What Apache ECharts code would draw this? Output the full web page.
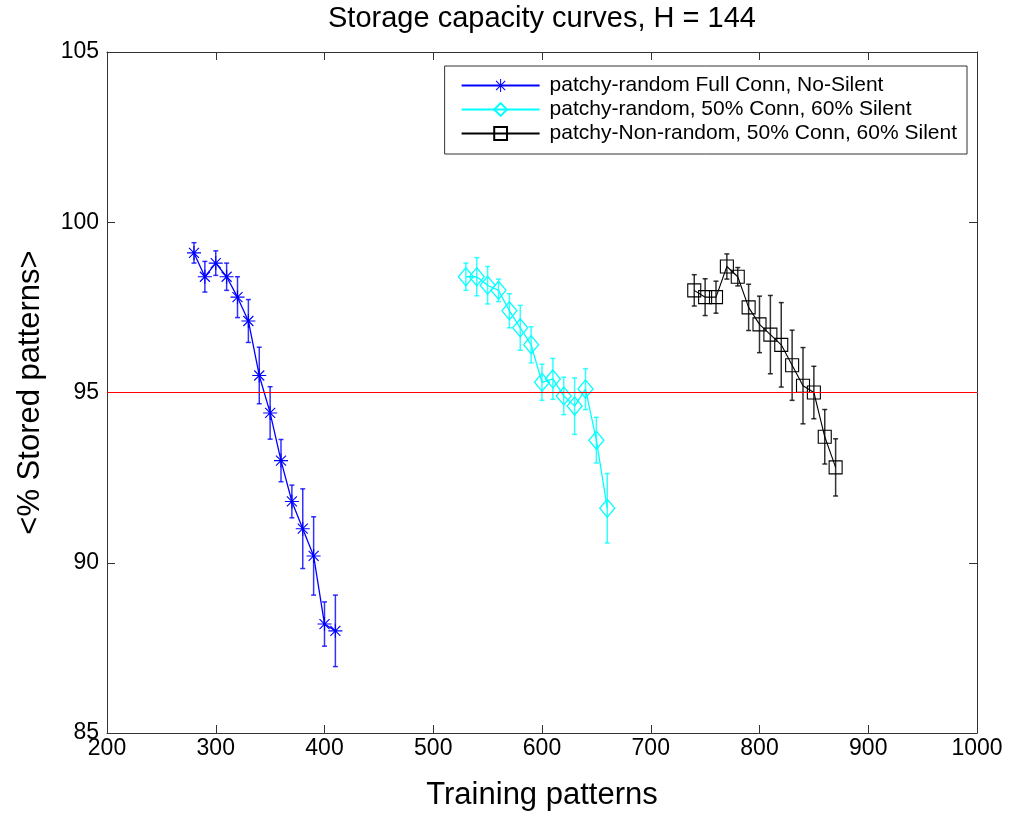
<!DOCTYPE html>
<html>
<head>
<meta charset="utf-8">
<script src="https://cdn.jsdelivr.net/npm/echarts@6/dist/echarts.min.js"></script>
<style>
  html, body { margin: 0; padding: 0; background: #fff; }
  #chart { width: 1010px; height: 816px; }
</style>
</head>
<body>
<div id="chart"></div>
<script>
// ---- data ----
const titleText = 'Storage capacity curves, H = 144';
const xTitle = 'Training patterns';
const yTitle = '<% Stored patterns>';
const seriesNames = [
  'patchy-random Full Conn, No-Silent',
  'patchy-random, 50% Conn, 60% Silent',
  'patchy-Non-random, 50% Conn, 60% Silent'
];
const refLevel = 95;

const xBlue = [280, 290, 300, 310, 320, 330, 340, 350, 360, 370, 380, 390, 400, 410];
const yBlue = [99.1, 98.4, 98.8, 98.4, 97.8, 97.1, 95.5, 94.4, 93.0, 91.8, 91.0, 90.2, 88.2, 88.0];
const eBlue = [0.3, 0.45, 0.36, 0.4, 0.6, 0.63, 0.83, 0.77, 0.62, 0.48, 1.17, 1.15, 0.65, 1.05];

const xCyan = [530, 540, 550, 560, 570, 580, 590, 600, 610, 620, 630, 640, 650, 660];
const yCyan = [98.4, 98.4, 98.15, 98.0, 97.4, 96.9, 96.4, 95.3, 95.4, 94.9, 94.6, 95.1, 93.6, 91.6];
const eCyan = [0.4, 0.56, 0.55, 0.33, 0.5, 0.66, 0.53, 0.53, 0.6, 0.55, 0.83, 0.6, 0.67, 1.02];

const xBlack = [740, 750, 760, 770, 780, 790, 800, 810, 820, 830, 840, 850, 860, 870];
const yBlack = [98.0, 97.8, 97.8, 98.7, 98.4, 97.5, 97.0, 96.7, 96.4, 95.8, 95.2, 95.0, 93.7, 92.8];
const eBlack = [0.46, 0.54, 0.47, 0.37, 0.27, 0.68, 0.83, 1.15, 1.24, 1.03, 1.12, 0.77, 0.8, 0.84];

// ---- helpers ----
const pts = (xs, ys) => xs.map((x, i) => [x, ys[i]]);
const errs = (xs, ys, es) => xs.map((x, i) => [x, ys[i] - es[i], ys[i] + es[i]]);
const plain = v => String(v);

const asterisk = 'path://M-0.55,-7L0.55,-7L0.55,7L-0.55,7Z' +
  'M-7,-0.55L7,-0.55L7,0.55L-7,0.55Z' +
  'M-5.4,-4.6L-4.6,-5.4L5.4,4.6L4.6,5.4Z' +
  'M4.6,-5.4L5.4,-4.6L-4.6,5.4L-5.4,4.6Z';

function errRender(params, api) {
  const x = api.value(0), lo = api.value(1), hi = api.value(2);
  const p1 = api.coord([x, hi]);
  const p2 = api.coord([x, lo]);
  const c = 2.5;
  const style = { stroke: api.visual('color'), lineWidth: 1.5, opacity: 0.8 };
  return {
    type: 'group',
    children: [
      { type: 'line', shape: { x1: p1[0], y1: p1[1], x2: p2[0], y2: p2[1] }, style },
      { type: 'line', shape: { x1: p1[0] - c, y1: p1[1], x2: p1[0] + c, y2: p1[1] }, style },
      { type: 'line', shape: { x1: p2[0] - c, y1: p2[1], x2: p2[0] + c, y2: p2[1] }, style }
    ]
  };
}

const FONT = 'Liberation Sans, Arial, sans-serif';
const axisLineStyle = { color: '#333', width: 1 };

const chart = echarts.init(document.getElementById('chart'), null, { renderer: 'canvas' });
chart.setOption({
  animation: false,
  backgroundColor: '#fff',
  textStyle: { fontFamily: FONT },
  title: {
    text: titleText,
    left: 542,
    top: 4,
    padding: 0,
    textAlign: 'center',
    textStyle: { fontFamily: FONT, fontSize: 29, fontWeight: 'normal', color: '#000' }
  },
  grid: { left: 107, right: 33, top: 52, bottom: 79, containLabel: false },
  legend: {
    data: seriesNames,
    orient: 'vertical',
    right: 43,
    top: 66,
    padding: [9, 10, 10, 16],
    itemWidth: 78,
    itemHeight: 16,
    itemGap: 3,
    borderColor: '#333',
    borderWidth: 1,
    backgroundColor: '#fff',
    textStyle: { fontFamily: FONT, fontSize: 21, color: '#000', padding: [0, 0, 0, 5] }
  },
  xAxis: [
    {
      type: 'value', min: 200, max: 1000, interval: 100, position: 'bottom',
      name: xTitle, nameLocation: 'middle', nameGap: 47,
      nameTextStyle: { fontFamily: FONT, fontSize: 31, color: '#000' },
      axisLine: { show: true, lineStyle: axisLineStyle },
      axisTick: { show: true, inside: true, length: 8, lineStyle: axisLineStyle },
      axisLabel: { fontFamily: FONT, fontSize: 23, color: '#000', margin: 4, formatter: plain },
      splitLine: { show: false }
    },
    {
      type: 'value', min: 200, max: 1000, interval: 100, position: 'top',
      axisLine: { show: true, lineStyle: axisLineStyle },
      axisTick: { show: true, inside: true, length: 8, lineStyle: axisLineStyle },
      axisLabel: { show: false },
      splitLine: { show: false }
    }
  ],
  yAxis: [
    {
      type: 'value', min: 85, max: 105, interval: 5, position: 'left',
      name: yTitle, nameLocation: 'middle', nameGap: 61,
      nameTextStyle: { fontFamily: FONT, fontSize: 31, color: '#000' },
      axisLine: { show: true, lineStyle: axisLineStyle },
      axisTick: { show: true, inside: true, length: 8, lineStyle: axisLineStyle },
      axisLabel: { fontFamily: FONT, fontSize: 23, color: '#000', margin: 8, formatter: plain },
      splitLine: { show: false }
    },
    {
      type: 'value', min: 85, max: 105, interval: 5, position: 'right',
      axisLine: { show: true, lineStyle: axisLineStyle },
      axisTick: { show: true, inside: true, length: 8, lineStyle: axisLineStyle },
      axisLabel: { show: false },
      splitLine: { show: false }
    }
  ],
  series: [
    {
      name: 'ref-level', type: 'line', z: 1, data: [],
      lineStyle: { color: '#ff0000' }, itemStyle: { color: '#ff0000' },
      markLine: {
        silent: true, symbol: ['none', 'none'], animation: false,
        label: { show: false },
        itemStyle: { color: '#ff0000' },
        lineStyle: { color: '#ff0000', type: 'solid', width: 1.2, opacity: 1 },
        emphasis: { disabled: true },
        data: [{ yAxis: refLevel, lineStyle: { color: '#ff0000' } }]
      }
    },
    {
      name: 'err-blue', type: 'custom', renderItem: errRender, z: 2,
      itemStyle: { color: '#0000ff' }, data: errs(xBlue, yBlue, eBlue), silent: true
    },
    {
      name: 'err-cyan', type: 'custom', renderItem: errRender, z: 2,
      itemStyle: { color: '#00ffff' }, data: errs(xCyan, yCyan, eCyan), silent: true
    },
    {
      name: 'err-black', type: 'custom', renderItem: errRender, z: 2,
      itemStyle: { color: '#000000' }, data: errs(xBlack, yBlack, eBlack), silent: true
    },
    {
      name: seriesNames[0], type: 'line', z: 3,
      data: pts(xBlue, yBlue),
      symbol: asterisk, symbolSize: 14, showAllSymbol: true,
      lineStyle: { color: '#0000ff', width: 1.3 },
      itemStyle: { color: '#0000ff' }
    },
    {
      name: seriesNames[1], type: 'line', z: 3,
      data: pts(xCyan, yCyan),
      symbol: 'diamond', symbolSize: [15, 18], showAllSymbol: true,
      lineStyle: { color: '#00ffff', width: 1.3 },
      itemStyle: { color: 'rgba(0,0,0,0)', borderColor: '#00ffff', borderWidth: 1.3 }
    },
    {
      name: seriesNames[2], type: 'line', z: 3,
      data: pts(xBlack, yBlack),
      symbol: 'rect', symbolSize: 13, showAllSymbol: true,
      lineStyle: { color: '#000000', width: 1.1 },
      itemStyle: { color: 'rgba(0,0,0,0)', borderColor: '#000000', borderWidth: 1.1 }
    }
  ]
});
</script>
</body>
</html>
